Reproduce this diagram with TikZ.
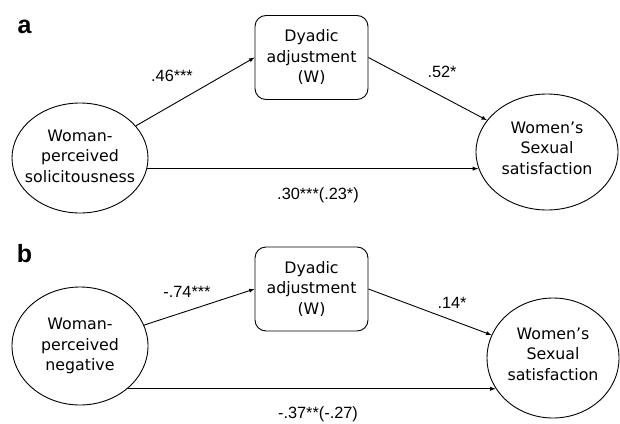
\documentclass[tikz,border=0pt]{standalone}
\usepackage{fontspec}
\setmainfont{DejaVu Sans}
\newfontfamily\coeffont{Liberation Sans}
\usetikzlibrary{shapes.geometric}

\tikzset{
	latent/.style={ellipse, draw, line width=0.9pt, inner sep=0pt},
	medbox/.style={draw, rounded corners=11pt, line width=0.9pt, minimum width=113pt, minimum height=84pt, align=center},
	coef/.style={font=\coeffont\fontsize{16.3}{18}\selectfont},
	panel/.style={font=\coeffont\bfseries\fontsize{25}{28}\selectfont},
	link/.style={-latex, line width=0.9pt}
}

\begin{document}
\begin{tikzpicture}[x=1pt, y=-1pt, font=\fontsize{15.8}{20.5}\selectfont]
	\useasboundingbox (0,0) rectangle (620,423);
	% panel a
	\node [panel] (pa) at (24.5,27) {a};
	\node [medbox] (dyada) at (311.5,57.5) {Dyadic\\adjustment\\(W)};
	\node [latent, minimum width=136pt, minimum height=110pt, label={[align=center, yshift=2pt]center:Woman-\\perceived\\solicitousness}] (sol) at (80,158) {};
	\node [latent, minimum width=142pt, minimum height=116pt, label={[align=center, yshift=4pt]center:Women’s\\Sexual\\satisfaction}] (sata) at (547,152) {};
	\draw [link] (sol) -- (dyada.west);
	\draw [link] (dyada.east) -- (sata);
	\draw [link] (sol.-9) -- (sol.-9 -| sata.193);
	\node [coef] (ca1) at (172,76) {.46***};
	\node [coef] (ca2) at (442,72) {.52*};
	\node [coef] (ca3) at (318,195) {.30***(.23*)};
	% panel b
	\node [panel] (pb) at (24.5,254) {b};
	\node [medbox] (dyadb) at (311.5,289) {Dyadic\\adjustment\\(W)};
	\node [latent, minimum width=136pt, minimum height=118pt, label={[align=center]center:Woman-\\perceived\\negative}] (neg) at (80,346) {};
	\node [latent, minimum width=132pt, minimum height=120pt, label={[align=center, yshift=4pt]center:Women’s\\Sexual\\satisfaction}] (satb) at (553,358) {};
	\draw [link] (neg) -- (dyadb.west);
	\draw [link] (dyadb.east) -- (satb);
	\draw [link] (neg.-42.7) -- (neg.-42.7 -| satb.208.75);
	\node [coef] (cb1) at (187,292) {-.74***};
	\node [coef] (cb2) at (452,303) {.14*};
	\node [coef] (cb3) at (318,414) {-.37**(-.27)};
\end{tikzpicture}
\end{document}
